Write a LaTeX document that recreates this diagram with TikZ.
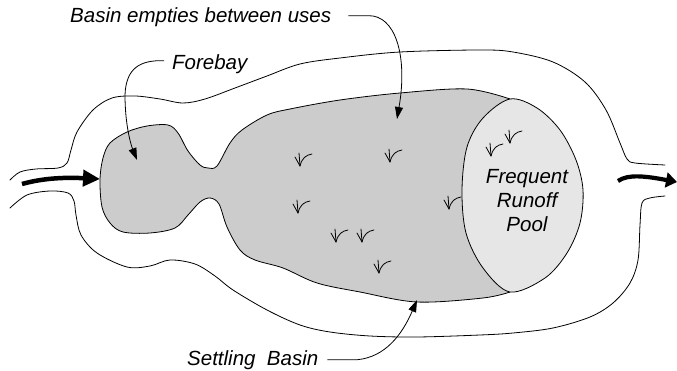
\documentclass[tikz,border=0pt]{standalone}
\usepackage{fontspec}
\setmainfont{Liberation Sans}
\usetikzlibrary{arrows.meta}
\definecolor{basinfill}{RGB}{204,204,204}
\definecolor{poolfill}{RGB}{230,230,230}
\begin{document}
\begin{tikzpicture}[x=1pt,y=-1pt,
  rim/.style={line width=0.8pt, line join=round, line cap=round},
  leader/.style={line width=0.8pt, -{Triangle[length=12pt,width=8pt]}},
  flow/.style={line width=4.5pt, -{Triangle[length=17pt,width=16pt]}},
  outflow/.style={line width=4.2pt, -{Triangle[length=11pt,width=15pt]}},
  label/.style={inner sep=0pt, font=\fontsize{20.5}{24}\selectfont\itshape},
  tuftline/.style={line width=0.8pt, line cap=round},
  tuft/.pic={
    \draw[tuftline] (0,0) .. controls (-2,-4) .. (-5,-9);
    \draw[tuftline] (0,0) .. controls (0,-6) .. (-1,-13);
    \draw[tuftline] (0,0) .. controls (2,-8) and (6,-11) .. (12,-12);
  }]
\useasboundingbox (0,0) rectangle (677,371);

% outer bank, upper edge
\draw[rim] plot[smooth, tension=0.55] coordinates {
  (10,180) (20,172) (36,169) (58,168) (67,163) (71,150) (77,132)
  (93,110) (112,98) (135,96) (160,99) (183,103) (205,99) (235,88)
  (267,76) (300,64) (340,58) (400,52) (480,50) (513,52) (553,62)
  (585,82) (606,110) (620,143) (627,159) (635,163) (665,165)};

% outer bank, lower edge
\draw[rim] plot[smooth, tension=0.55] coordinates {
  (10,208) (27,195) (50,191) (68,193) (74,201) (76,215) (81,235)
  (97,253) (127,267) (150,266) (170,260) (195,264) (215,276)
  (233,290) (267,310) (300,325) (330,332) (370,336) (417,337)
  (480,335) (513,333) (553,328) (590,317) (613,303) (630,283)
  (638,260) (640,225) (642,203) (650,198) (665,196)};

% forebay and settling basin; its right end lies under the pool
\draw[rim, fill=basinfill] plot[smooth, tension=0.55] coordinates {
  (510,292) (483,298) (417,302)
  (360,292) (317,283) (283,268) (255,260) (240,250) (227,227)
  (219,204) (210,198) (200,202) (188,215) (175,228) (150,233)
  (123,232) (110,223) (102,207)
  (100,180) (103,158) (110,143) (127,132) (147,126) (168,125)
  (178,133) (188,151) (200,165) (208,168) (217,166) (230,143)
  (242,130) (267,115) (290,109) (340,100) (400,93) (467,89)
  (510,99)} -- (535,195) -- cycle;

% frequent runoff pool
\draw[rim, fill=poolfill] plot[smooth cycle, tension=0.55] coordinates {
  (510,99) (537,108) (560,130) (576,160) (583,190) (580,223)
  (567,253) (545,278) (510,292) (483,268) (466,233) (462,190)
  (467,147) (483,118)};

% vegetation
\foreach \p in {(300,166),(390,162),(298,213),(449,209),(336,242),(362,242),(379,273),(491,156),(510,143)}
  \pic at \p {tuft};

% labels
\node[label, anchor=base west] (empties) at (70,23) {Basin empties between uses};
\node[label, anchor=base west] (forebay) at (172,70) {Forebay};
\node[label, anchor=base west] (settling) at (187,365) {Settling\ \ Basin};
\node[label, align=center] (pool) at (527,201) {Frequent\\Runoff\\Pool};

% leader targets
\coordinate (emptiestip) at (397,119);
\coordinate (forebaytip) at (137,160);
\coordinate (settlingtip) at (417,300);

\draw[leader] ([xshift=17pt,yshift=2pt]empties.east) -- ++(20,0)
  .. controls (395,15) and (408,55) .. (emptiestip);
\draw[leader] ([xshift=-8pt,yshift=4pt]forebay.west)
  .. controls (140,60) and (126,68) .. (125,95)
  .. controls (125,125) and (131,145) .. (forebaytip);
\draw[leader] ([xshift=9pt]settling.east) -- ++(30,0)
  .. controls (385,357) and (402,335) .. (settlingtip);

% inflow and outflow
\coordinate (inflowstart) at (22,184);
\coordinate (forebayin) at (100,179);
\coordinate (outflowstart) at (618,181);
\coordinate (outflowtip) at (677,182);
\draw[flow] (inflowstart) .. controls (40,179) and (60,177) .. (forebayin);
\draw[outflow] (outflowstart) .. controls (628,174) and (645,176) .. (outflowtip);
\end{tikzpicture}
\end{document}
